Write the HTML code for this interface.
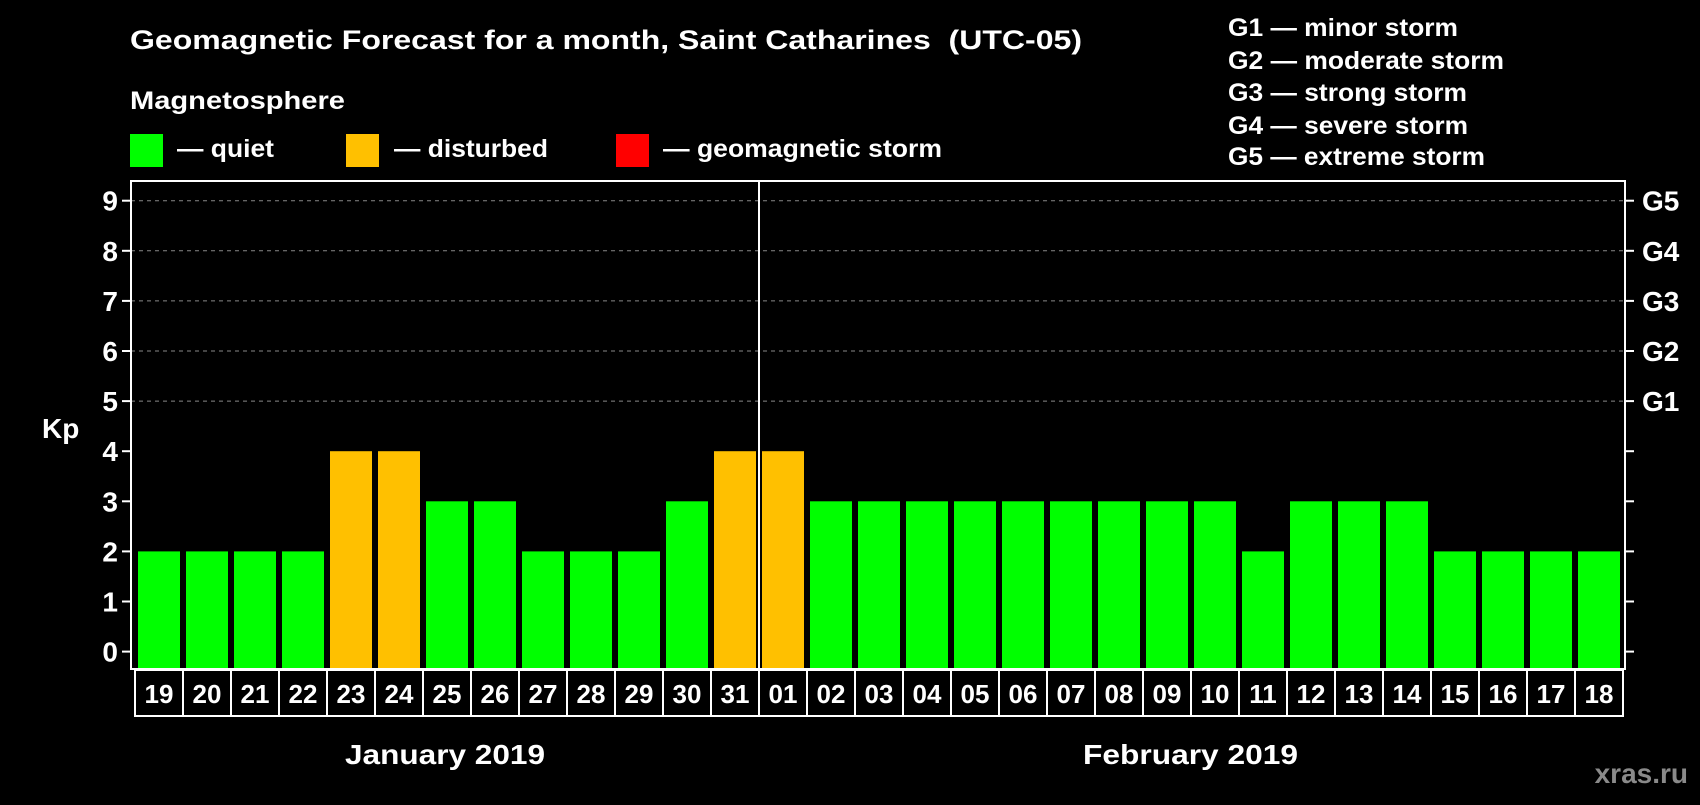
<!DOCTYPE html>
<html><head><meta charset="utf-8"><style>
body{margin:0;background:#000;width:1700px;height:800px;overflow:hidden}
svg text{font-family:"Liberation Sans",Arial,sans-serif;font-weight:bold;fill:#fff}
</style></head><body>
<svg id="c" width="1700" height="800" xmlns="http://www.w3.org/2000/svg">
<text x="130" y="49" font-size="27" textLength="952" lengthAdjust="spacingAndGlyphs" xml:space="preserve">Geomagnetic Forecast for a month, Saint Catharines  (UTC-05)</text>
<text x="130" y="109" font-size="25" textLength="215" lengthAdjust="spacingAndGlyphs">Magnetosphere</text>
<rect x="130" y="134" width="33" height="33" fill="#00ff00"/>
<text x="177" y="157" font-size="25" textLength="97" lengthAdjust="spacingAndGlyphs">— quiet</text>
<rect x="346" y="134" width="33" height="33" fill="#ffc000"/>
<text x="394" y="157" font-size="25" textLength="154" lengthAdjust="spacingAndGlyphs">— disturbed</text>
<rect x="616" y="134" width="33" height="33" fill="#ff0000"/>
<text x="663" y="157" font-size="25" textLength="279" lengthAdjust="spacingAndGlyphs">— geomagnetic storm</text>
<g font-size="25">
<text x="1228" y="36" textLength="230" lengthAdjust="spacingAndGlyphs">G1 — minor storm</text>
<text x="1228" y="69" textLength="276" lengthAdjust="spacingAndGlyphs">G2 — moderate storm</text>
<text x="1228" y="101" textLength="239" lengthAdjust="spacingAndGlyphs">G3 — strong storm</text>
<text x="1228" y="134" textLength="240" lengthAdjust="spacingAndGlyphs">G4 — severe storm</text>
<text x="1228" y="165" textLength="257" lengthAdjust="spacingAndGlyphs">G5 — extreme storm</text>
</g>
<text x="42" y="438" font-size="28">Kp</text>
<text x="345" y="764" font-size="28" textLength="200" lengthAdjust="spacingAndGlyphs">January 2019</text>
<text x="1083" y="764" font-size="28" textLength="215" lengthAdjust="spacingAndGlyphs">February 2019</text>
<text x="1688" y="783" font-size="28" text-anchor="end" style="fill:#8a8a8a">xras.ru</text>
<g id="g"></g>
</svg>
<script>
const days=["19","20","21","22","23","24","25","26","27","28","29","30","31","01","02","03","04","05","06","07","08","09","10","11","12","13","14","15","16","17","18"];
const kp=[2,2,2,2,4,4,3,3,2,2,2,3,4,4,3,3,3,3,3,3,3,3,3,2,3,3,3,2,2,2,2];
const yTicks=[0,1,2,3,4,5,6,7,8,9];
const gLabels=["G1","G2","G3","G4","G5"];
const NS="http://www.w3.org/2000/svg";
const g=document.getElementById('g');
const L=131,R=1625,T=181,B=669,cellX0=135,cellW=48;
const y=v=>651.6-v*50.1;
const x=i=>cellX0+i*cellW;
function mk(t,a){const e=document.createElementNS(NS,t);for(const k in a)e.setAttribute(k,a[k]);g.appendChild(e);return e;}
yTicks.forEach(v=>{
 if(v>=5){const l=mk('line',{x1:L,x2:R,y1:y(v),y2:y(v),stroke:'#888','stroke-dasharray':'4,4','stroke-width':1});
 
 }
 const t1=mk('line',{x1:L-9,x2:L,y1:y(v),y2:y(v),stroke:'#fff','stroke-width':2});
 
 
 const t2=mk('line',{x1:R,x2:R+9,y1:y(v),y2:y(v),stroke:'#fff','stroke-width':2});
 
 
 const tx=mk('text',{x:L-13,y:y(v)+10,'font-size':28,'text-anchor':'end'});tx.textContent=v;
 
 
});
gLabels.forEach((s,i)=>{const t=mk('text',{x:1642,y:y(5+i)+10,'font-size':28});t.textContent=s;
 
 });
kp.forEach((v,i)=>{
 const r=mk('rect',{x:x(i)+3,y:y(v),width:42,height:B-y(v),fill:v>=5?'#ff0000':v>=4?'#ffc000':'#00ff00'});
 
 
 const c=mk('rect',{x:x(i),y:B+1,width:cellW,height:46,fill:'none',stroke:'#fff','stroke-width':2});
 
 
 const t=mk('text',{x:x(i)+cellW/2,y:B+34,'font-size':26,'text-anchor':'middle'});t.textContent=days[i];
 
 
});
const f=mk('rect',{x:L,y:T,width:R-L,height:B-T,fill:'none',stroke:'#fff','stroke-width':2});


const d=mk('line',{x1:x(13),x2:x(13),y1:T,y2:B,stroke:'#fff','stroke-width':2});


</script>
</body></html>
